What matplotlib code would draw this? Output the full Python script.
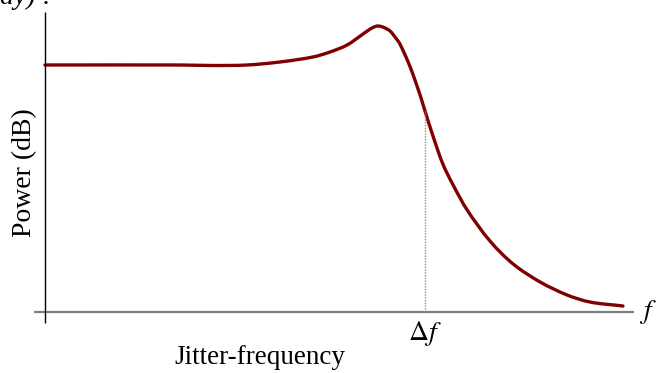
import matplotlib.pyplot as plt
import numpy as np
from matplotlib.path import Path
from matplotlib.patches import PathPatch

# jitter transfer curve (f relative to delta f, power in arbitrary dB units)
freq = [0.000, 0.355, 0.442, 0.532, 0.618, 0.705, 0.750, 0.795, 0.837, 0.850,
        0.863, 0.876, 0.892, 0.908, 0.921, 0.934, 0.961, 0.987, 1.000, 1.021,
        1.047, 1.074, 1.111, 1.171, 1.232, 1.303, 1.374, 1.434, 1.521]
power = [24.7, 24.7, 24.65, 24.7, 25.0, 25.5, 26.0, 26.7, 27.8, 28.15,
         28.45, 28.6, 28.45, 28.1, 27.5, 26.8, 24.5, 21.7, 20.1, 17.6,
         14.8, 12.7, 10.2, 7.1, 4.8, 3.0, 1.7, 1.0, 0.6]
delta_f = 1.0
delta_p = 20.1


def smooth_path(ax, xs, ys):
    # hermite spline through the points, tangents from chord length in screen space
    pts = ax.transData.transform(np.column_stack([xs, ys]))
    seg = np.hypot(*np.diff(pts, axis=0).T)
    t = np.concatenate([[0], np.cumsum(seg)])
    n = len(pts)
    tang = np.zeros_like(pts)
    for i in range(n):
        a = max(i - 1, 0)
        b = min(i + 1, n - 1)
        tang[i] = (pts[b] - pts[a]) / (t[b] - t[a])
    verts = [pts[0]]
    codes = [Path.MOVETO]
    for i in range(n - 1):
        h = t[i + 1] - t[i]
        verts += [pts[i] + tang[i] * h / 3, pts[i + 1] - tang[i + 1] * h / 3, pts[i + 1]]
        codes += [Path.CURVE4] * 3
    verts = ax.transData.inverted().transform(np.array(verts))
    return Path(verts, codes)


plt.rcParams['font.family'] = ['Liberation Serif', 'DejaVu Serif']
plt.rcParams['mathtext.fontset'] = 'stix'

fig = plt.figure(figsize=(6.59, 3.73), dpi=100)
ax = fig.add_axes([0, 0, 1, 1])
ax.set_xlim(-0.1184, 1.6158)
ax.set_ylim(-6.1, 31.2)
ax.axis('off')

# axes drawn by hand, like the sketch
ax.plot([-0.029, 1.55], [0, 0], color='#7f7f7f', lw=1.6, solid_capstyle='butt')
ax.plot([0, 0], [-1.1, 30.0], color='black', lw=1.0, solid_capstyle='butt')

ax.plot([delta_f, delta_f], [0, delta_p], color='#8c8c8c', lw=1.0, ls=(0, (1, 1)))

ax.add_patch(PathPatch(smooth_path(ax, freq, power), facecolor='none', edgecolor='#800000',
                       lw=2.4, joinstyle='round', capstyle='round'))

ax.text(-0.0526, 13.9, 'Power (dB)', rotation=90, ha='center', va='center', fontsize=20)
ax.text(0.566, -4.5, 'Jitter-frequency', ha='center', va='center', fontsize=19.5)
ax.text(delta_f, -2.2, r'$\Delta f$', ha='center', va='center', fontsize=20)
ax.text(1.587, 0.0, r'$f$', ha='center', va='center', fontsize=20)

# partial caption cut off at the top edge
fig.text(0.0, 1 - 4 / 373, 'ay) :', ha='left', va='baseline', fontsize=20, style='italic')

fig.savefig('out.png', dpi=100)
